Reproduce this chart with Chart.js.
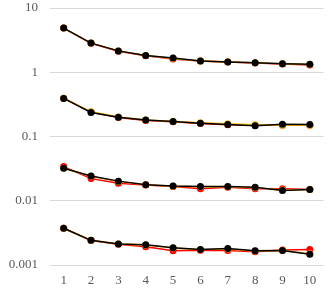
<!DOCTYPE html>
<html>
<head>
<meta charset="utf-8">
<script src="https://cdn.jsdelivr.net/npm/chart.js@4/dist/chart.umd.min.js"></script>
<style>
    html, body { margin: 0; padding: 0; background: #fff; }
    #wrap { width: 327px; height: 293px; }
</style>
</head>
<body>
<div id="wrap"><canvas id="chart" width="327" height="293"></canvas></div>
<script>
const categories = ['1', '2', '3', '4', '5', '6', '7', '8', '9', '10'];
const yTicks = [0.001, 0.01, 0.1, 1, 10];

// four groups, each drawn as red, orange, black
const redA = [4.87, 2.82, 2.13, 1.81, 1.61, 1.49, 1.44, 1.39, 1.35, 1.30];
const orangeA = [4.87, 2.84, 2.15, 1.82, 1.64, 1.50, 1.45, 1.41, 1.36, 1.32];
const blackA = [4.87, 2.84, 2.15, 1.82, 1.66, 1.50, 1.45, 1.41, 1.36, 1.33];

const redB = [0.395, 0.240, 0.198, 0.178, 0.170, 0.160, 0.152, 0.150, 0.150, 0.150];
const orangeB = [0.395, 0.242, 0.202, 0.180, 0.171, 0.164, 0.158, 0.152, 0.150, 0.150];
const blackB = [0.392, 0.237, 0.200, 0.180, 0.171, 0.161, 0.154, 0.147, 0.155, 0.154];

const redC = [0.034, 0.0221, 0.0188, 0.0176, 0.0166, 0.0154, 0.0162, 0.0154, 0.0154, 0.0149];
const orangeC = [0.032, 0.0240, 0.0200, 0.0178, 0.0168, 0.0165, 0.0165, 0.0160, 0.0147, 0.0149];
const blackC = [0.032, 0.0242, 0.0202, 0.0178, 0.0169, 0.0166, 0.0166, 0.0162, 0.0145, 0.0149];

const redD = [0.00373, 0.00240, 0.00210, 0.00193, 0.00166, 0.00169, 0.00168, 0.00161, 0.00171, 0.00174];
const orangeD = [0.00373, 0.00242, 0.00212, 0.00205, 0.00184, 0.00174, 0.00178, 0.00165, 0.00168, 0.00150];
const blackD = [0.00373, 0.00242, 0.00213, 0.00207, 0.00186, 0.00175, 0.00180, 0.00166, 0.00168, 0.00147];

const COLORS = { red: '#ff0000', orange: '#ffc000', black: '#000000' };

function series(values, color) {
    return {
        data: values,
        borderColor: color,
        backgroundColor: color,
        borderWidth: 1.5,
        pointRadius: 3.5,
        pointHoverRadius: 3.5,
        pointBorderWidth: 0,
        tension: 0,
        fill: false,
    };
}

// Chart.js paints the first dataset on top, so black goes first
const datasets = [
    series(blackA, COLORS.black), series(blackB, COLORS.black), series(blackC, COLORS.black), series(blackD, COLORS.black),
    series(orangeA, COLORS.orange), series(orangeB, COLORS.orange), series(orangeC, COLORS.orange), series(orangeD, COLORS.orange),
    series(redA, COLORS.red), series(redB, COLORS.red), series(redC, COLORS.red), series(redD, COLORS.red),
];

const tickFont = { family: '"Liberation Serif", "DejaVu Serif", serif', size: 13 };

new Chart(document.getElementById('chart'), {
    type: 'line',
    data: { labels: categories, datasets },
    options: {
        responsive: false,
        animation: false,
        layout: { padding: { top: 8, right: 2, left: 0, bottom: 0 } },
        plugins: { legend: { display: false }, tooltip: { enabled: false } },
        scales: {
            x: {
                offset: true,
                grid: { display: false },
                border: { display: false },
                ticks: { color: '#595959', font: tickFont, padding: 0, maxRotation: 0 },
                afterFit: scale => { scale.height = 28; },
            },
            y: {
                type: 'logarithmic',
                min: 0.001,
                max: 10,
                grid: { color: '#d9d9d9', lineWidth: 1, drawTicks: false },
                border: { display: false },
                afterBuildTicks: scale => {
                    scale.ticks = yTicks.map(value => ({ value }));
                },
                ticks: {
                    color: '#595959',
                    font: tickFont,
                    padding: 12,
                    callback: value => String(value),
                },
                afterFit: scale => {
                    scale.width = 50;
                    scale.paddingTop = 0;
                    scale.paddingBottom = 0;
                },
            },
        },
    },
});
</script>
</body>
</html>
